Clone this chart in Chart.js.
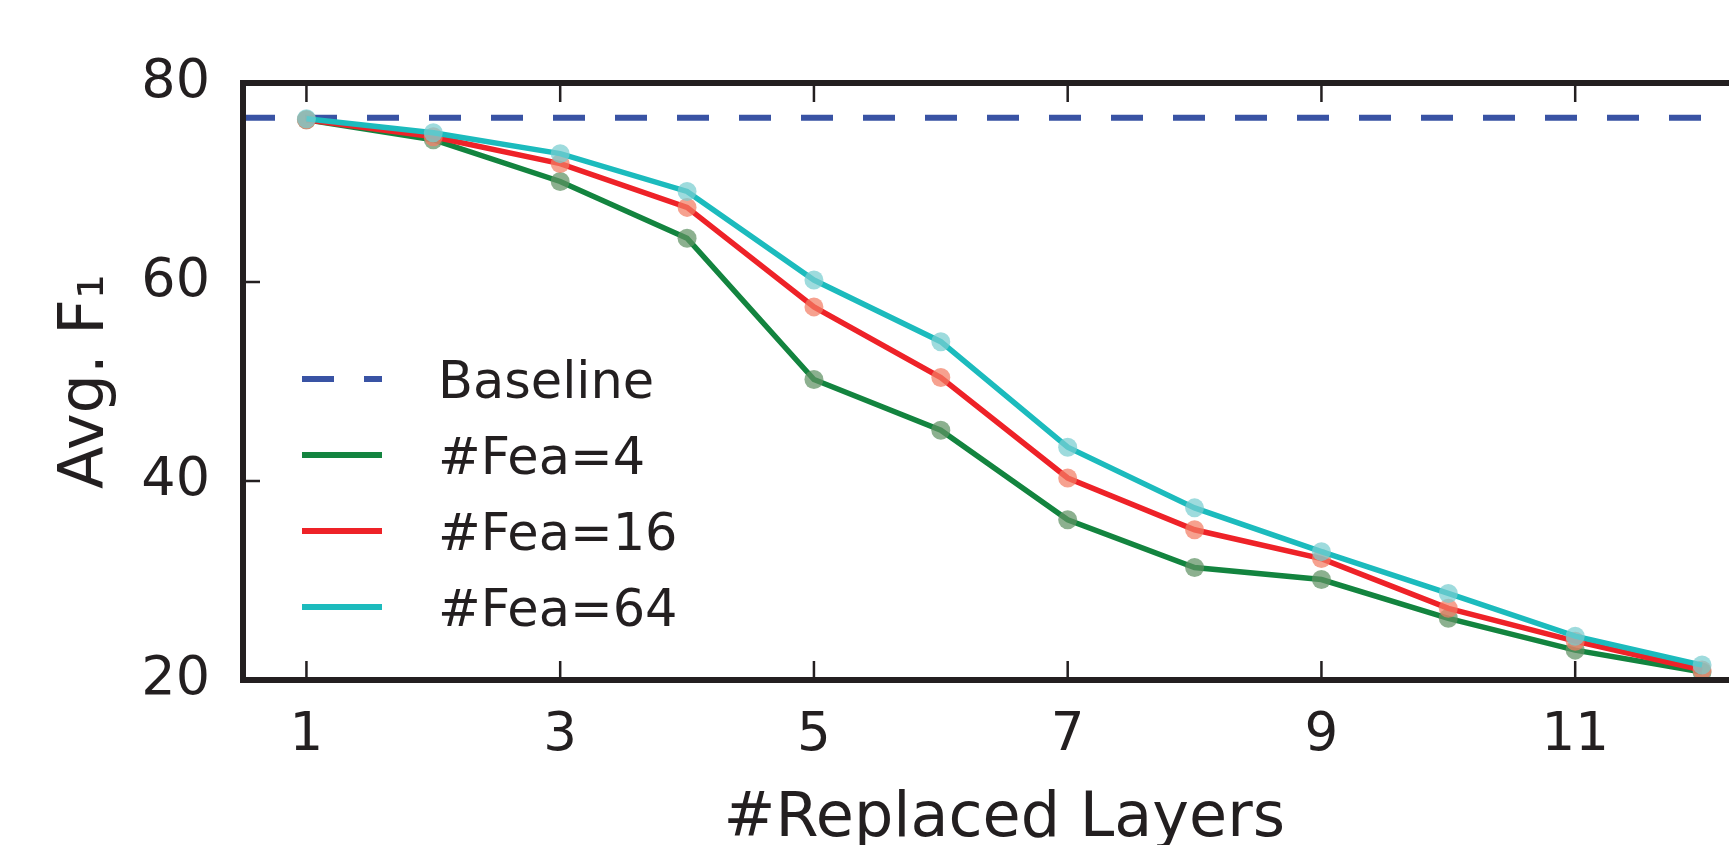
<!DOCTYPE html>
<html>
<head>
<meta charset="utf-8">
<title>Avg. F1 vs replaced layers</title>
<script src="https://cdn.jsdelivr.net/npm/chart.js@4.4.1/dist/chart.umd.min.js"></script>
<style>
    html, body { margin: 0; padding: 0; background: #fff; overflow: hidden; }
    #wrap { position: relative; width: 1775px; height: 845px; }
</style>
</head>
<body>
<div id="wrap"><canvas id="f1Chart"></canvas></div>
<script>
// ---- data ----
const layers = [1, 2, 3, 4, 5, 6, 7, 8, 9, 10, 11, 12];
const fea4  = [76.3, 74.3, 70.1, 64.4, 50.2, 45.1, 36.1, 31.3, 30.1, 26.2, 23.0, 20.8];
const fea16 = [76.3, 74.6, 71.9, 67.5, 57.5, 50.4, 40.3, 35.1, 32.2, 27.2, 23.9, 21.0];
const fea64 = [76.4, 75.0, 72.9, 69.1, 60.2, 54.0, 43.4, 37.3, 32.9, 28.7, 24.4, 21.5];
const baselineF1 = 76.5;
const seriesNames = ['Baseline', '#Fea=4', '#Fea=16', '#Fea=64'];
const xTicks = [1, 3, 5, 7, 9, 11];
const yTicks = [20, 40, 60, 80];
const xRange = [0.5, 12.5];
const yRange = [20, 80];

// ---- style ----
const INK = '#231f20';
const FONT = "'DejaVu Sans', 'Bitstream Vera Sans', sans-serif";
const BLUE = '#3953a4';
const GREEN = '#13843f';
const RED = '#ee2228';
const CYAN = '#1cbbbd';

function toPoints(vals) {
    return layers.map((x, i) => ({ x: x, y: vals[i] }));
}

// matplotlib-like frame: thick spines, inward ticks, legend inside the axes
const frameAndLegend = {
    id: 'frameAndLegend',
    afterDatasetsDraw(chart) {
        const ctx = chart.ctx;
        const a = chart.chartArea;
        const sx = chart.scales.x;
        const sy = chart.scales.y;
        ctx.save();

        // inward ticks
        ctx.strokeStyle = INK;
        ctx.lineWidth = 2.5;
        ctx.beginPath();
        xTicks.forEach(v => {
            const px = sx.getPixelForValue(v);
            ctx.moveTo(px, a.top); ctx.lineTo(px, a.top + 19);
            ctx.moveTo(px, a.bottom); ctx.lineTo(px, a.bottom - 19);
        });
        yTicks.forEach(v => {
            const py = sy.getPixelForValue(v);
            ctx.moveTo(a.left, py); ctx.lineTo(a.left + 17, py);
            ctx.moveTo(a.right, py); ctx.lineTo(a.right - 17, py);
        });
        ctx.stroke();

        // spines
        ctx.lineWidth = 6;
        ctx.strokeRect(a.left, a.top, a.right - a.left, a.bottom - a.top);

        // legend
        const ds = chart.data.datasets;
        const x0 = a.left + 59;
        const handleLen = 80;
        const textX = a.left + 195;
        let y = a.top + 296;
        ctx.font = '51px ' + FONT;
        ctx.textBaseline = 'alphabetic';
        ctx.textAlign = 'left';
        ds.forEach(d => {
            ctx.beginPath();
            ctx.strokeStyle = d.borderColor;
            ctx.lineWidth = 6;
            ctx.lineCap = 'butt';
            ctx.setLineDash(d.borderDash || []);
            ctx.moveTo(x0, y);
            ctx.lineTo(x0 + handleLen, y);
            ctx.stroke();
            ctx.setLineDash([]);
            ctx.fillStyle = INK;
            ctx.fillText(d.label, textX, y + 19);
            y += 76;
        });
        ctx.restore();
    }
};

new Chart(document.getElementById('f1Chart'), {
    type: 'line',
    data: {
        datasets: [
            {
                label: seriesNames[0],
                data: [{ x: xRange[0], y: baselineF1 }, { x: xRange[1], y: baselineF1 }],
                borderColor: BLUE,
                borderWidth: 6,
                borderDash: [32, 30],
                pointRadius: 0,
                order: 3
            },
            {
                label: seriesNames[1],
                data: toPoints(fea4),
                borderColor: GREEN,
                borderWidth: 5.5,
                pointRadius: 9.5,
                pointBackgroundColor: 'rgba(95, 145, 100, 0.72)',
                pointBorderWidth: 0,
                order: 2
            },
            {
                label: seriesNames[2],
                data: toPoints(fea16),
                borderColor: RED,
                borderWidth: 5.5,
                pointRadius: 9.5,
                pointBackgroundColor: 'rgba(242, 125, 100, 0.72)',
                pointBorderWidth: 0,
                order: 1
            },
            {
                label: seriesNames[3],
                data: toPoints(fea64),
                borderColor: CYAN,
                borderWidth: 5.5,
                pointRadius: 9.5,
                pointBackgroundColor: 'rgba(120, 205, 208, 0.72)',
                pointBorderWidth: 0,
                order: 0
            }
        ]
    },
    options: {
        responsive: true,
        maintainAspectRatio: false,
        animation: false,
        events: [],
        layout: { padding: { top: 83, right: 4, left: 0, bottom: 0 } },
        elements: { line: { tension: 0 } },
        plugins: {
            legend: { display: false },
            tooltip: { enabled: false }
        },
        scales: {
            x: {
                type: 'linear',
                min: xRange[0],
                max: xRange[1],
                afterBuildTicks: s => { s.ticks = xTicks.map(v => ({ value: v })); },
                afterFit: s => { s.height = 165; },
                grid: { display: false, drawTicks: false },
                border: { display: false },
                ticks: {
                    color: INK,
                    padding: 24,
                    font: { family: FONT, size: 53 }
                },
                title: {
                    display: true,
                    text: '#Replaced Layers',
                    color: INK,
                    font: { family: FONT, size: 62, lineHeight: 0.8 },
                    padding: { top: 0, bottom: 0 }
                }
            },
            y: {
                min: yRange[0],
                max: yRange[1],
                afterBuildTicks: s => { s.ticks = yTicks.map(v => ({ value: v })); },
                afterFit: s => { s.width = 243; },
                grid: { display: false, drawTicks: false },
                border: { display: false },
                ticks: {
                    color: INK,
                    padding: 33,
                    font: { family: FONT, size: 54 }
                },
                title: {
                    display: true,
                    text: 'Avg. F\u2081',
                    color: INK,
                    font: { family: FONT, size: 62 },
                    padding: { top: 50, bottom: 0 }
                }
            }
        }
    },
    plugins: [frameAndLegend]
});
</script>
</body>
</html>
